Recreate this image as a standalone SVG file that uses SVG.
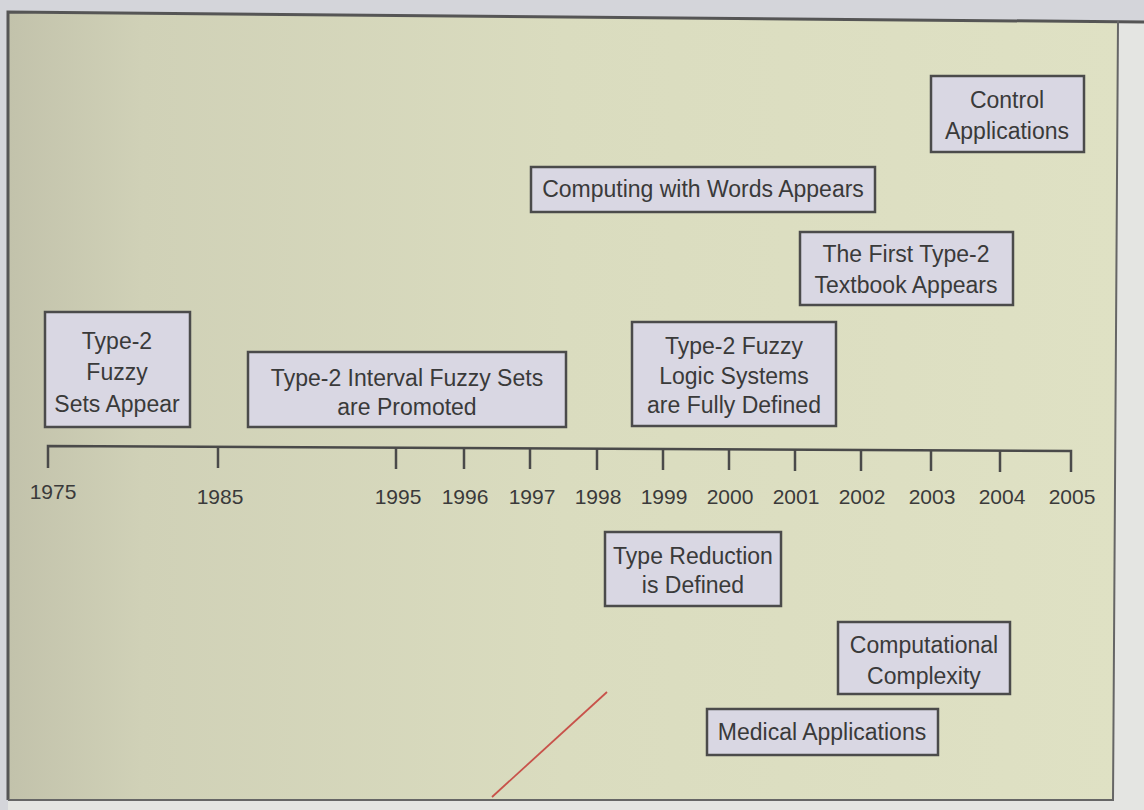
<svg xmlns="http://www.w3.org/2000/svg" width="1144" height="810" viewBox="0 0 1144 810">
<defs>
<linearGradient id="bg" x1="0" y1="0" x2="1" y2="0">
<stop offset="0" stop-color="#c2c2ab"/>
<stop offset="0.12" stop-color="#d0d1b7"/>
<stop offset="0.5" stop-color="#dadcbf"/>
<stop offset="1" stop-color="#dfe1c4"/>
</linearGradient>
<style>
.box rect{fill:#d9d7e3;stroke:#4b4b4b;stroke-width:2.5}
.box text{font-family:"Liberation Sans",Arial,sans-serif;font-size:23px;fill:#3a3a3a;text-anchor:middle}
.yr{font-family:"Liberation Sans",Arial,sans-serif;font-size:21px;fill:#3a3a3a;text-anchor:middle}
.axis{stroke:#4a4a4a;stroke-width:2.5;fill:none}
</style>
</defs>
<rect x="0" y="0" width="1144" height="810" fill="#d4d5da"/>
<polygon points="8,12 1144,22 1144,810 8,810" fill="#e4e5e2"/>
<polygon points="8,12 1118,21 1113,800 8,800" fill="url(#bg)"/>
<polyline points="8,800 8,12 1144,22" fill="none" stroke="#555" stroke-width="3"/>
<polyline points="1118,21 1113,800 8,800" fill="none" stroke="#666" stroke-width="2"/>
<line x1="492" y1="797" x2="607" y2="692" stroke="#c8524a" stroke-width="1.8"/>

<g id="connectors">
<polyline class="axis" points="48,468 48,446 1071,451 1071,472"/>
<line class="axis" x1="218" y1="447" x2="218" y2="468"/>
<line class="axis" x1="396" y1="448" x2="396" y2="469"/>
<line class="axis" x1="464" y1="448" x2="464" y2="469"/>
<line class="axis" x1="530" y1="448" x2="530" y2="469"/>
<line class="axis" x1="597" y1="449" x2="597" y2="470"/>
<line class="axis" x1="663" y1="449" x2="663" y2="470"/>
<line class="axis" x1="729" y1="449" x2="729" y2="470"/>
<line class="axis" x1="795" y1="450" x2="795" y2="471"/>
<line class="axis" x1="861" y1="450" x2="861" y2="471"/>
<line class="axis" x1="931" y1="450" x2="931" y2="471"/>
<line class="axis" x1="1000" y1="451" x2="1000" y2="472"/>
</g>

<g id="years">
<text class="yr" x="53" y="499">1975</text>
<text class="yr" x="220" y="504">1985</text>
<text class="yr" x="398" y="504">1995</text>
<text class="yr" x="465" y="504">1996</text>
<text class="yr" x="532" y="504">1997</text>
<text class="yr" x="598" y="504">1998</text>
<text class="yr" x="664" y="504">1999</text>
<text class="yr" x="730" y="504">2000</text>
<text class="yr" x="796" y="504">2001</text>
<text class="yr" x="862" y="504">2002</text>
<text class="yr" x="932" y="504">2003</text>
<text class="yr" x="1002" y="504">2004</text>
<text class="yr" x="1072" y="504">2005</text>
</g>

<g id="n1" class="box"><rect x="45" y="312" width="145" height="115"/>
<text x="117" y="349">Type-2</text><text x="117" y="380">Fuzzy</text><text x="117" y="412">Sets Appear</text></g>
<g id="n2" class="box"><rect x="248" y="352" width="318" height="75"/>
<text x="407" y="386">Type-2 Interval Fuzzy Sets</text><text x="407" y="415">are Promoted</text></g>
<g id="n3" class="box"><rect x="632" y="322" width="204" height="104"/>
<text x="734" y="354">Type-2 Fuzzy</text><text x="734" y="384">Logic Systems</text><text x="734" y="413">are Fully Defined</text></g>
<g id="n4" class="box"><rect x="531" y="167" width="344" height="45"/>
<text x="703" y="197">Computing with Words Appears</text></g>
<g id="n5" class="box"><rect x="931" y="76" width="153" height="76"/>
<text x="1007" y="108">Control</text><text x="1007" y="139">Applications</text></g>
<g id="n6" class="box"><rect x="800" y="232" width="213" height="73"/>
<text x="906" y="262">The First Type-2</text><text x="906" y="293">Textbook Appears</text></g>
<g id="n7" class="box"><rect x="605" y="532" width="176" height="74"/>
<text x="693" y="564">Type Reduction</text><text x="693" y="593">is Defined</text></g>
<g id="n8" class="box"><rect x="838" y="622" width="172" height="72"/>
<text x="924" y="653">Computational</text><text x="924" y="684">Complexity</text></g>
<g id="n9" class="box"><rect x="707" y="709" width="231" height="46"/>
<text x="822" y="740">Medical Applications</text></g>
</svg>
